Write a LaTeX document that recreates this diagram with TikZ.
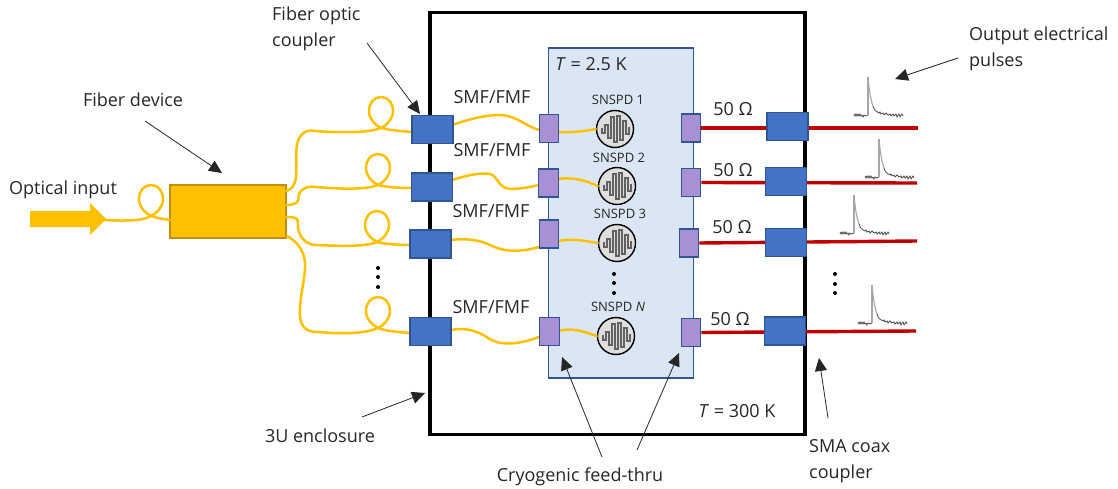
\documentclass[tikz,border=0pt]{standalone}
\usepackage{fontspec}
\setmainfont{Open Sans}
\usetikzlibrary{arrows.meta,calc}
\definecolor{fib}{HTML}{FFC000}
\definecolor{fibd}{HTML}{BF9000}
\definecolor{cblue}{HTML}{4472C4}
\definecolor{cblued}{HTML}{2F5597}
\definecolor{pur}{HTML}{A98FD3}
\definecolor{pan}{HTML}{DAE6F4}
\definecolor{red2}{HTML}{C00000}
\definecolor{txt}{HTML}{262626}
\tikzset{
 x=1pt,y=-1pt,
 fiber/.style={draw=fib,line width=2.5pt,line cap=round,line join=round},
 coax/.style={draw=red2,line width=3.4pt},
 coupler/.style={draw=cblued,line width=1.4pt,fill=cblue,inner sep=0pt,minimum width=41pt,minimum height=28pt},
 feed/.style={draw=cblued,line width=1.4pt,fill=pur,inner sep=0pt,minimum width=19.5pt,minimum height=28pt},
 lbl/.style={font=\fontsize{18}{26}\selectfont,text=txt,inner sep=0pt},
 slbl/.style={font=\fontsize{13}{15}\selectfont,text=txt,inner sep=0pt},
 callout/.style={draw=txt,line width=.8pt,-{Triangle[length=13pt,width=12pt]}},
 dotm/.style={circle,fill=black,inner sep=0pt,minimum size=4pt},
 snspd/.style={circle,draw=black,line width=1.4pt,fill=black!13,inner sep=0pt,minimum size=37pt,
  path picture={\draw[black!62,line width=1.8pt,line join=miter,shift={(path picture bounding box.center)}]
   (-13,-1)--(-13,4)--(-10,4)--(-10,-4)--(-7,-4)--(-7,9)--(-4,9)--(-4,-12)--(-1,-12)--(-1,13)--(2,13)--(2,-13)--(5,-13)--(5,11)--(8,11)--(8,-8)--(11,-8)--(11,5)--(14,5)--(14,-2);}},
}
\newcommand{\fibloop}[2]{% crossing point x,y : teardrop loop going up
 .. controls (#1+6,#2-3) and (#1+12,#2-9) .. (#1+12,#2-17)
 .. controls (#1+12,#2-25) and (#1+7,#2-31) .. (#1,#2-31)
 .. controls (#1-7,#2-31) and (#1-12,#2-25) .. (#1-12,#2-17)
 .. controls (#1-12,#2-9) and (#1-6,#2-3) .. (#1,#2)}
\newcommand{\pulsemark}[2]{%
 \begin{scope}[shift={(#1,#2)}]
  \draw[black!70,line width=.7pt] (-14,-1)--(-13,1)--(-12,-1)--(-11,1)--(-10,-1)--(-9,1)--(-8,-1)--(-7,1)--(-6,0)--(-5,2)--(-4,0)--(-2,1)--(0,0);
  \draw[black!35,line width=1.1pt] (0,0)--(0,-38);
  \draw[black!35,line width=1.1pt] (0,-38) .. controls (1,-25) and (3,-14) .. (5,-9);
  \draw[black!70,line width=.8pt] (5,-9) .. controls (6,-5) and (8,-3) .. (11,-2)--(12,-3)--(13,-1)--(15,-2)--(16,0)--(18,-2)--(20,0)--(22,-1)--(23,1)--(25,-1)--(26,1)--(28,-1)--(29,2)--(31,-1)--(32,2)--(34,-1)--(35,1);
 \end{scope}}
\begin{document}
\begin{tikzpicture}
\useasboundingbox (0,0) rectangle (1118,489);
% enclosure and cold panel
\node[draw=black,line width=3.5pt,inner sep=0pt,minimum width=375pt,minimum height=422pt] (encl) at (617.5,223.5) {};
\node[draw=cblued,line width=1.4pt,fill=pan,inner sep=0pt,minimum width=145pt,minimum height=330pt] (panel) at (621,213) {};
% fiber device and input
\node[draw=fibd,line width=1.2pt,fill=fib,inner sep=0pt,minimum width=116pt,minimum height=53pt] (dev) at (228,211.5) {};
\fill[fib] (30,211)--(90,211)--(90,203)--(106,219)--(90,235)--(90,227)--(30,227)--cycle;
\coordinate (inp) at (104,220);
\coordinate (d0) at (170,220);
\coordinate (d1) at (286,191);
\coordinate (d2) at (286,205);
\coordinate (d3) at (286,217);
\coordinate (d4) at (287,236);
\coordinate (t1) at (412,132);
\coordinate (t2) at (411,188);
\coordinate (t3) at (410,245);
\coordinate (t4) at (410,333);
% feed-thrus and detectors
\node[feed] (p1) at (549,128.5) {};
\node[feed] (p2) at (548.5,183) {};
\node[feed] (p3) at (549,234) {};
\node[feed] (p4) at (549.5,331.5) {};
\node[feed] (q1) at (691,128) {};
\node[feed] (q2) at (691,182.5) {};
\node[feed] (q3) at (689,243) {};
\node[feed] (q4) at (691,332.5) {};
\node[snspd] (s1) at (615,129) {};
\node[snspd] (s2) at (617,186) {};
\node[snspd] (s3) at (617,243) {};
\node[snspd] (s4) at (616,336) {};
% fibers
\draw[fiber] (inp) .. controls (125,221) and (143,221) .. (151,216) \fibloop{151}{216} .. controls (157,218) and (163,219) .. (d0);
\draw[fiber] (d1) .. controls (302,187) and (294,160) .. (297,145) .. controls (299,134) and (306,129) .. (315,131) .. controls (340,133) and (368,133) .. (381,128) \fibloop{381}{128} .. controls (388,130) and (400,131) .. (t1);
\draw[fiber] (d2) .. controls (304,205) and (296,196) .. (300,192) .. controls (304,187) and (310,186) .. (316,187) .. controls (340,189) and (365,190) .. (378,185) \fibloop{378}{185} .. controls (385,187) and (398,188) .. (t2);
\draw[fiber] (d3) .. controls (304,217) and (295,222) .. (299,232) .. controls (302,240) and (308,245) .. (316,245) .. controls (340,246) and (365,247) .. (377,242) \fibloop{377}{242} .. controls (384,244) and (398,245) .. (t3);
\draw[fiber] (d4) .. controls (300,243) and (306,255) .. (305,268) .. controls (304,285) and (299,300) .. (300,316) .. controls (301,328) and (307,332) .. (318,332) .. controls (340,334) and (365,334) .. (378,328) \fibloop{378}{328} .. controls (385,331) and (398,332) .. (t4);
\draw[fiber] (452,125) .. controls (470,119) and (485,115) .. (500,115) .. controls (518,116) and (525,126) .. (539,130);
\draw[fiber] (452,180) .. controls (465,176) and (480,172) .. (490,174) .. controls (498,176) and (498,188) .. (510,189) .. controls (520,189) and (530,187) .. (539,185);
\draw[fiber] (451,240) .. controls (465,238) and (480,240) .. (490,245) .. controls (500,250) and (515,254) .. (539,247);
\draw[fiber] (451,330) .. controls (465,327) and (478,331) .. (488,338) .. controls (498,345) and (515,346) .. (539,337);
\draw[fiber] (559,132) .. controls (572,133) and (585,131) .. (s1.west);
\draw[fiber] (558,179) .. controls (572,177) and (585,180) .. (s2.west);
\draw[fiber] (559,241) .. controls (572,238) and (585,241) .. (s3.west);
\draw[fiber] (559,331) .. controls (572,327) and (585,332) .. (s4.west);
% coax
\draw[coax] (q1.east) -- (918,128);
\draw[coax] (q2.east) -- (917,183);
\draw[coax] (q3.east) -- (917,241);
\draw[coax] (q4.east) -- (916,331);
% couplers on top of the lines
\node[coupler] (c1) at (432.5,129.5) {};
\node[coupler] (c2) at (432,187) {};
\node[coupler] (c3) at (430.5,244) {};
\node[coupler] (c4) at (430.5,331.5) {};
\node[coupler] (r1) at (787.5,126.5) {};
\node[coupler] (r2) at (786,181.5) {};
\node[coupler] (r3) at (786,242.5) {};
\node[coupler] (r4) at (785,331) {};
\foreach \x/\y in {549/128.5,548.5/183,549/234,549.5/331.5,691/128,691/182.5,689/243,691/332.5}
  \node[feed] at (\x,\y) {};
% pulses
\pulsemark{868}{115}
\pulsemark{879}{177}
\pulsemark{854}{233}
\pulsemark{872}{323}
% dots
\foreach \x/\y in {378/268,378/277,378/287,614/274,614/283,614/293,835/274,835/284,835/293}
  \node[dotm] at (\x,\y) {};
% labels
\node[lbl,align=left,anchor=north west] (lfoc) at (272,7) {Fiber optic\\coupler};
\node[lbl] (lfd) at (133,100) {Fiber device};
\node[lbl] (lopt) at (63,190) {Optical input};
\node[lbl] (l3u) at (320,436) {3U enclosure};
\node[lbl] (lcry) at (580,477) {Cryogenic feed-thru};
\node[lbl,align=left,anchor=north west] (lsma) at (809,439) {SMA coax\\coupler};
\node[lbl,align=left,anchor=north west] (lout) at (969,27) {Output electrical\\pulses};
\node[lbl] (lt1) at (591,64) {\textit{T} = 2.5 K};
\node[lbl] (lt2) at (737,411) {\textit{T} = 300 K};
\node[lbl] at (492,97) {SMF/FMF};
\node[lbl] at (492,150) {SMF/FMF};
\node[lbl] at (491,211) {SMF/FMF};
\node[lbl] at (491,307) {SMF/FMF};
\node[lbl] at (733,109) {50 Ω};
\node[lbl] at (733,170) {50 Ω};
\node[lbl] at (732,227) {50 Ω};
\node[lbl] at (730,319) {50 Ω};
\node[slbl] at (618,100) {SNSPD 1};
\node[slbl] at (619,158) {SNSPD 2};
\node[slbl] at (620,214) {SNSPD 3};
\node[slbl] at (618,307) {SNSPD \textit{N}};
% callouts
\coordinate (a1s) at (367,43); \coordinate (a1e) at (420,114);
\coordinate (a2s) at (145,121); \coordinate (a2e) at (222,173);
\coordinate (a3s) at (362,417); \coordinate (a3e) at (425,393);
\coordinate (a4s) at (602,457); \coordinate (a4e) at (562,357);
\coordinate (a5s) at (637,450); \coordinate (a5e) at (679,353);
\coordinate (a6s) at (828,418); \coordinate (a6e) at (819,358);
\coordinate (a7s) at (958,58); \coordinate (a7e) at (895,79);
\foreach \n in {1,...,7} \draw[callout] (a\n s) -- (a\n e);
\end{tikzpicture}
\end{document}
